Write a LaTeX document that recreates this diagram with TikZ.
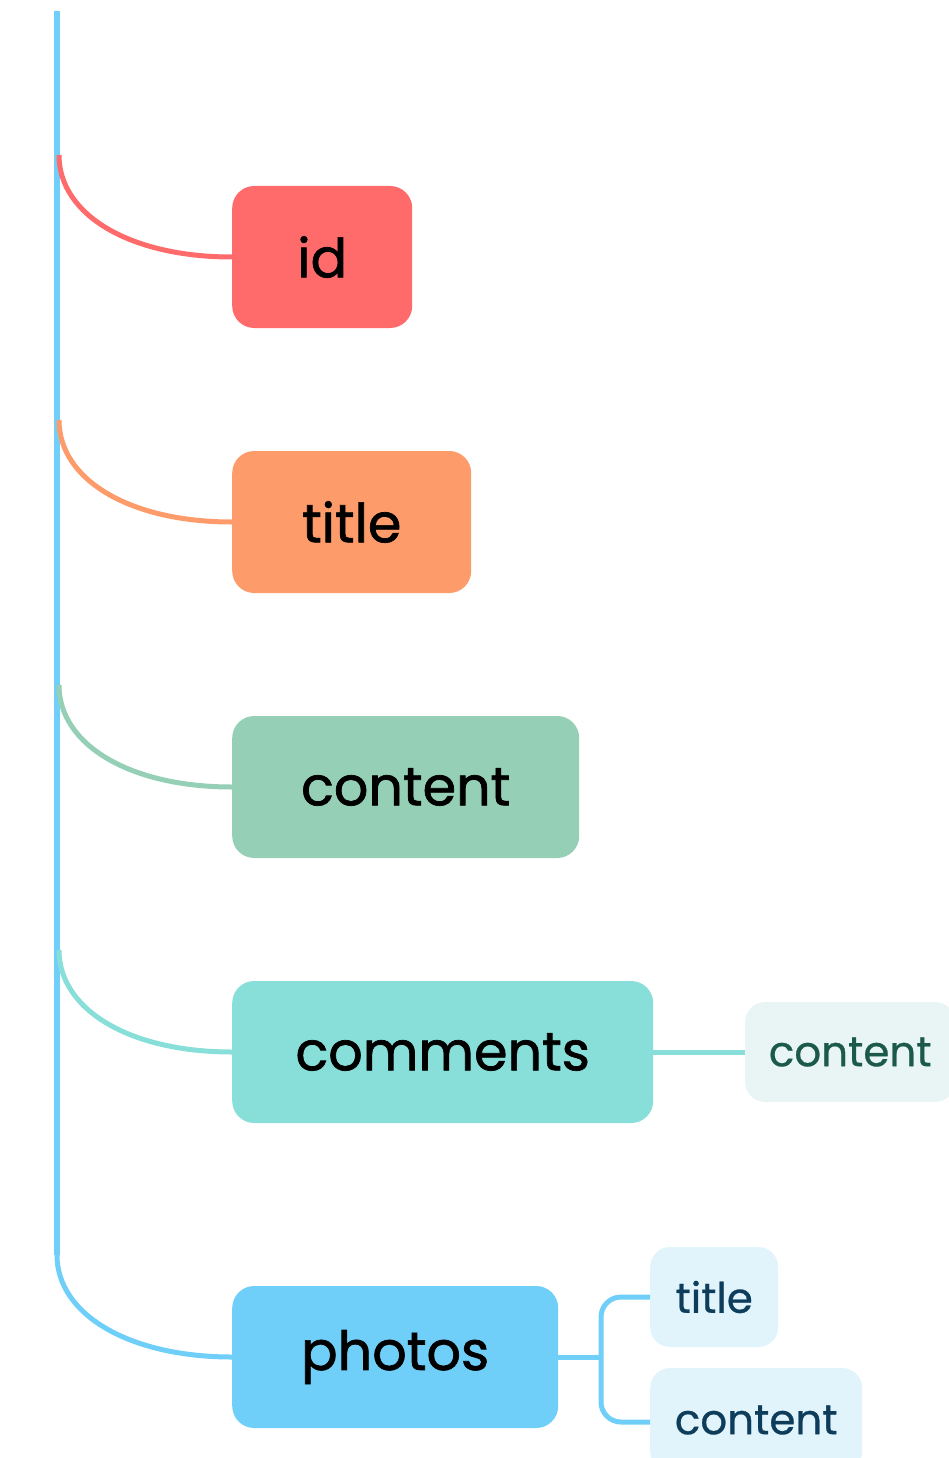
\documentclass[tikz,border=0pt]{standalone}
\usepackage{fontspec}
\setmainfont{Poppins}
\newfontfamily\heavyfont{Poppins}[FakeBold=1.3]
\newfontfamily\midfont{Poppins}[FakeBold=0.6]
\definecolor{cid}{HTML}{FF6B6B}
\definecolor{ctitle}{HTML}{FE9B6B}
\definecolor{ccontent}{HTML}{95CFB5}
\definecolor{ccomments}{HTML}{88DFD9}
\definecolor{cphotos}{HTML}{70CFF8}
\definecolor{subgreen}{HTML}{E8F5F4}
\definecolor{subblue}{HTML}{E1F4FB}
\definecolor{txtgreen}{HTML}{1B5A4B}
\definecolor{txtblue}{HTML}{0E3D5C}
\begin{document}
\begin{tikzpicture}[x=1pt,y=-1pt,
  mainbox/.style={rounded corners=22pt, minimum height=142pt, anchor=west, inner sep=0pt, font=\heavyfont\fontsize{54}{60}\selectfont, text=black},
  subbox/.style={rounded corners=20pt, minimum height=100pt, anchor=west, inner sep=0pt, font=\midfont\fontsize{42}{50}\selectfont},
  link/.style={line width=5pt}]
\useasboundingbox (0,0) rectangle (948,1458);
% spine
\coordinate (top) at (57,11);
\coordinate (bot) at (57,1255);
\draw[cphotos, line width=6pt] (top) -- (bot);
% boxes
\node[mainbox, fill=cid, minimum width=180pt] (id) at (232,257) {id};
\node[mainbox, fill=ctitle, minimum width=239pt] (title) at (232,522) {title};
\node[mainbox, fill=ccontent, minimum width=347pt] (content) at (232,787) {content};
\node[mainbox, fill=ccomments, minimum width=421pt] (comments) at (232,1052) {comments};
\node[mainbox, fill=cphotos, minimum width=326pt] (photos) at (232,1357) {photos};
% sub boxes
\node[subbox, fill=subgreen, text=txtgreen, minimum width=210pt] (ccont) at (745,1052) {content};
\node[subbox, fill=subblue, text=txtblue, minimum width=128pt] (ptitle) at (650,1297) {title};
\node[subbox, fill=subblue, text=txtblue, minimum width=212pt, minimum height=104pt] (pcont) at (650,1420) {content};
% start coordinates on spine
\coordinate (sid) at (59,155);
\coordinate (stitle) at (59,420);
\coordinate (scontent) at (59,685);
\coordinate (scomments) at (59,950);
% curves
\draw[link, cid] (sid) .. controls (59,215) and (130,257) .. (id.west);
\draw[link, ctitle] (stitle) .. controls (59,480) and (130,522) .. (title.west);
\draw[link, ccontent] (scontent) .. controls (59,745) and (130,787) .. (content.west);
\draw[link, ccomments] (scomments) .. controls (59,1010) and (130,1052) .. (comments.west);
\draw[link, cphotos] (bot) .. controls (57,1315) and (130,1357) .. (photos.west);
% sub connectors
\draw[link, ccomments] (comments.east) -- (ccont.west);
\coordinate (fork) at (601,1357);
\draw[link, cphotos] (photos.east) -- (fork);
\draw[link, cphotos, rounded corners=20pt] (fork) |- (ptitle.west);
\draw[link, cphotos, rounded corners=20pt] (fork) |- ([yshift=-2pt]pcont.west);
\end{tikzpicture}
\end{document}
